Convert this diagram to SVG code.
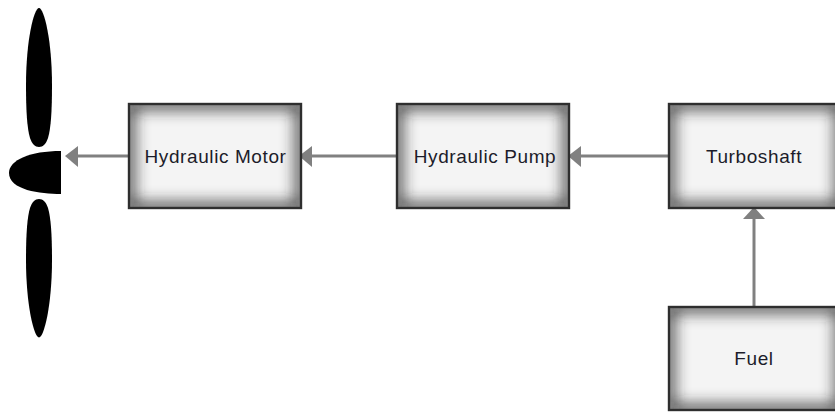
<svg xmlns="http://www.w3.org/2000/svg" width="835" height="412" viewBox="0 0 835 412">
<style>
.glow{fill:none;stroke:#2a2a2a;stroke-width:10;filter:url(#b)}
.face{fill:#f4f4f4}
.edge{fill:none;stroke:#2e2e2e;stroke-width:2.4}
.lbl{font-family:"Liberation Sans",Arial,sans-serif;font-size:19px;letter-spacing:.6px;fill:#1c1c2a;text-anchor:middle}
.c{stroke:#808080;stroke-width:3;fill:none}
.h{fill:#808080}
.blade{fill:#000}
</style>
<defs>
<filter id="b" x="-20%" y="-20%" width="140%" height="140%"><feGaussianBlur stdDeviation="7.500"/></filter>
<clipPath id="c1"><rect x="129" y="104" width="172" height="104"/></clipPath>
<clipPath id="c2"><rect x="397" y="104" width="172" height="104"/></clipPath>
<clipPath id="c3"><rect x="669" y="104" width="172" height="104"/></clipPath>
<clipPath id="c4"><rect x="669" y="307" width="172" height="103"/></clipPath>
</defs>
<g id="propeller">
<path class="blade" d="M39 8C44 8 52 40 52 85C52 110 51 128 48 138C46 144 43 147 39 147C35 147 32 144 30 138C27 128 26 110 26 85C26 40 34 8 39 8Z"/>
<path class="blade" d="M39 337.500C44 337.500 52 305 52 260C52 236 51 218 48 208C46 202 43 199 39 199C35 199 32 202 30 208C27 218 26 236 26 260C26 305 34 337.500 39 337.500Z"/>
<path class="blade" d="M61 151V194C40 194 9 190 9 173C9 160 30 151 61 151Z"/>
</g>
<g id="connectors">
<path class="c" d="M129 156H78"/><path class="h" d="M65 156L78 146V167Z"/>
<path class="c" d="M397 156H312"/><path class="h" d="M299 156L312 146V167Z"/>
<path class="c" d="M669 156H581"/><path class="h" d="M568 156L581 146V167Z"/>
<path class="c" d="M754 307V219"/><path class="h" d="M754 207L765 219H743Z"/>
</g>
<g id="motor">
<rect class="face" x="129" y="104" width="172" height="104"/>
<g clip-path="url(#c1)"><rect class="glow" x="129" y="104" width="172" height="104"/></g>
<rect class="edge" x="129" y="104" width="172" height="104"/>
<text class="lbl" x="215.500" y="163">Hydraulic Motor</text>
</g>
<g id="pump">
<rect class="face" x="397" y="104" width="172" height="104"/>
<g clip-path="url(#c2)"><rect class="glow" x="397" y="104" width="172" height="104"/></g>
<rect class="edge" x="397" y="104" width="172" height="104"/>
<text class="lbl" x="485" y="163">Hydraulic Pump</text>
</g>
<g id="turboshaft">
<rect class="face" x="669" y="104" width="172" height="104"/>
<g clip-path="url(#c3)"><rect class="glow" x="669" y="104" width="172" height="104"/></g>
<rect class="edge" x="669" y="104" width="172" height="104"/>
<text class="lbl" x="754" y="163">Turboshaft</text>
</g>
<g id="fuel">
<rect class="face" x="669" y="307" width="172" height="103"/>
<g clip-path="url(#c4)"><rect class="glow" x="669" y="307" width="172" height="103"/></g>
<rect class="edge" x="669" y="307" width="172" height="103"/>
<text class="lbl" x="754" y="365">Fuel</text>
</g>
</svg>
